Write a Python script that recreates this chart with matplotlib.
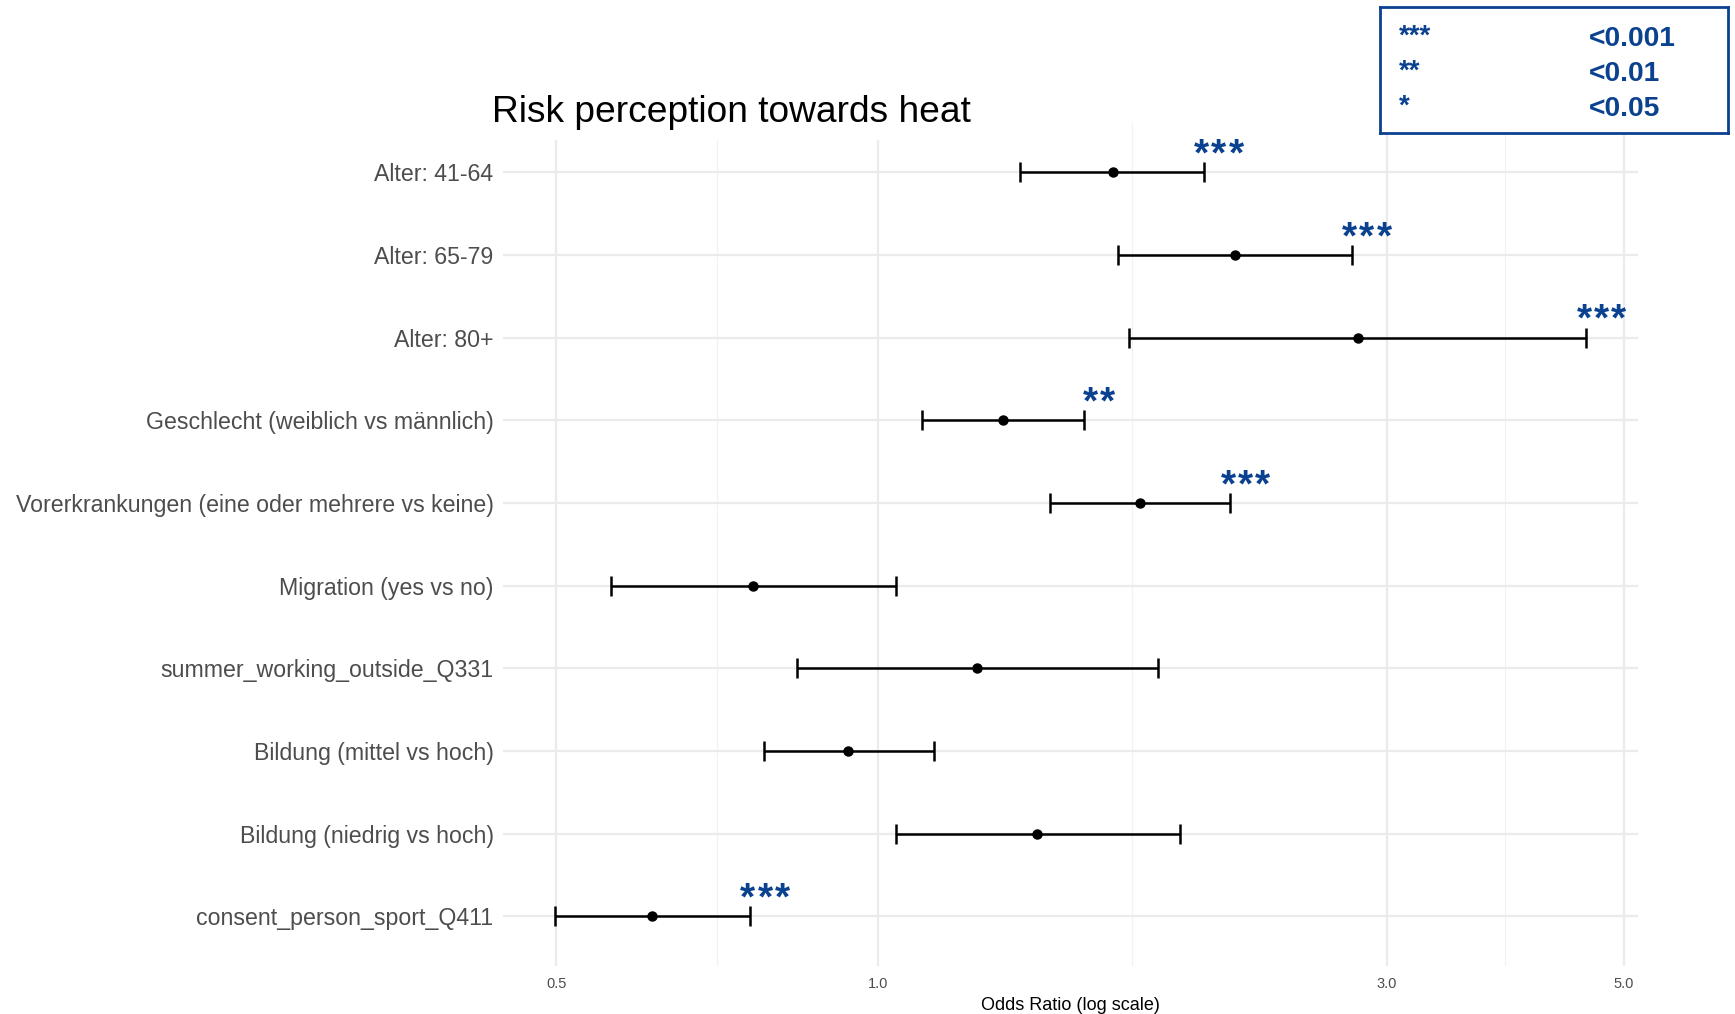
import matplotlib
matplotlib.use('Agg')
import matplotlib.pyplot as plt
import matplotlib.ticker as mt
from matplotlib.patches import Rectangle
import numpy as np

plt.rcParams['font.family'] = ['Liberation Sans', 'DejaVu Sans']

# data (top to bottom)
labels = ['Alter: 41-64', 'Alter: 65-79', 'Alter: 80+',
          'Geschlecht (weiblich vs männlich)',
          'Vorerkrankungen (eine oder mehrere vs keine)',
          'Migration (yes vs no)', 'summer_working_outside_Q331',
          'Bildung (mittel vs hoch)', 'Bildung (niedrig vs hoch)',
          'consent_person_sport_Q411']
odds = [1.66, 2.16, 2.82, 1.31, 1.76, 0.764, 1.24, 0.938, 1.41, 0.615]
ci_low = [1.36, 1.68, 1.72, 1.10, 1.45, 0.563, 0.841, 0.782, 1.04, 0.498]
ci_high = [2.02, 2.78, 4.61, 1.56, 2.14, 1.04, 1.83, 1.13, 1.92, 0.759]
stars = ['***', '***', '***', '**', '***', '', '', '', '', '***']

legend_stars = ['***', '**', '*']
legend_p = ['<0.001', '<0.01', '<0.05']

blue = '#0B4290'
W, H = 1735, 1014
n = len(labels)
y = np.arange(n)[::-1]

fig = plt.figure(figsize=(W / 100, H / 100), dpi=100)
ax = fig.add_axes([503 / W, 48 / H, (1637.5 - 503) / W, (966 - 122.7) / H])

ax.set_xscale('log')
lo = np.log10(min(ci_low)); hi = np.log10(max(ci_high))
pad = (hi - lo) * 0.05
ax.set_xlim(10 ** (lo - pad), 10 ** (hi + pad))
ax.set_ylim(-0.6, n - 1 + 0.6)

# grid like theme_minimal
major = [0.5, 1.0, 3.0, 5.0]
minor = [np.sqrt(0.5 * 1.0), np.sqrt(1.0 * 3.0), np.sqrt(3.0 * 5.0)]
ax.xaxis.set_major_locator(mt.FixedLocator(major))
ax.xaxis.set_major_formatter(mt.FixedFormatter(['0.5', '1.0', '3.0', '5.0']))
ax.xaxis.set_minor_locator(mt.FixedLocator(minor))
ax.xaxis.set_minor_formatter(mt.NullFormatter())
ax.grid(which='major', axis='both', color='#EBEBEB', lw=1.6, zorder=0)
ax.grid(which='minor', axis='x', color='#F2F2F2', lw=0.9, zorder=0)
for s in ax.spines.values():
    s.set_visible(False)
ax.tick_params(which='both', length=0)
ax.tick_params(axis='y', labelsize=16.7, labelcolor='#4D4D4D', pad=6.8)
ax.tick_params(axis='x', labelsize=10.5, labelcolor='#4D4D4D', pad=8)
ax.set_yticks(y)
ax.set_yticklabels(labels)

ax.axvline(1.0, color='#999999', ls=(0, (4, 3)), lw=1.3, zorder=1)

err = [np.array(odds) - np.array(ci_low), np.array(ci_high) - np.array(odds)]
ax.errorbar(odds, y, xerr=err, fmt='o', color='black', ms=6.5,
            elinewidth=1.8, capsize=7.5, capthick=1.8, zorder=3)

# significance stars, one glyph at a time so they get spaced out
step = 12.4  # points between stars
for yi, h, s in zip(y, ci_high, stars):
    k = len(s)
    for j in range(k):
        dx = 11 + (j - (k - 1) / 2) * step
        ax.annotate('*', (h, yi), xytext=(dx, 5.0), textcoords='offset points',
                    ha='center', va='baseline', color=blue, fontsize=28,
                    fontweight='bold', zorder=4)

ax.set_xlabel('Odds Ratio (log scale)', fontsize=13, labelpad=4)

# title sits on a white patch that hides the top of the grid
fig.patches.append(Rectangle((480 / W, 1 - 140 / H), 505 / W, 70 / H,
                             transform=fig.transFigure, facecolor='white',
                             edgecolor='none', zorder=2))
fig.text(492 / W, 1 - 112 / H, 'Risk perception towards heat',
         fontsize=26.7, ha='left', va='center', zorder=3)

# significance key box
box = fig.add_axes([1380 / W, 1 - 133 / H, 348 / W, 126 / H])
box.set_zorder(5)
box.set_xlim(0, 1); box.set_ylim(0, 1)
box.set_xticks([]); box.set_yticks([])
for s in box.spines.values():
    s.set_color(blue)
    s.set_linewidth(2)
for i, (st, p) in enumerate(zip(legend_stars, legend_p)):
    yy = 0.743 - i * 0.276
    box.text(0.055, yy + 0.02, st, color=blue, fontsize=20, fontweight='bold',
             ha='left', va='center')
    box.text(0.6, yy, p, color=blue, fontsize=20.3, fontweight='bold',
             ha='left', va='center')

fig.savefig('out.png', dpi=100)
